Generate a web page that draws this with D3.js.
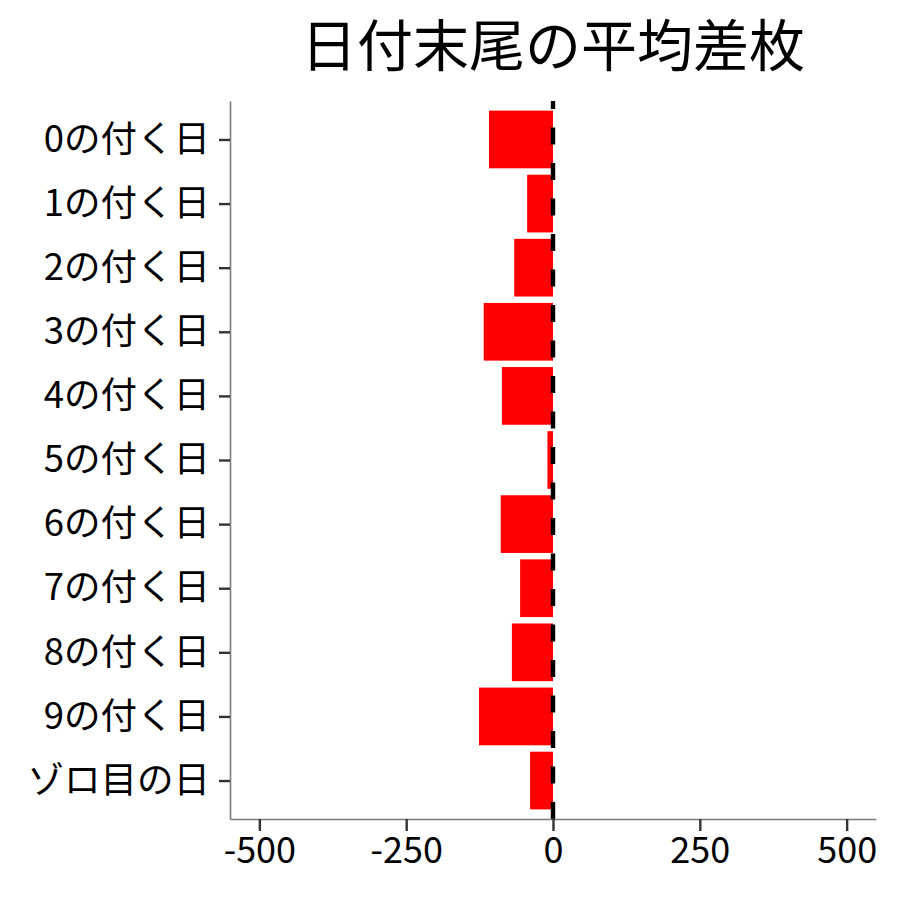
<!DOCTYPE html>
<html>
<head>
<meta charset="utf-8">
<script src="https://cdn.jsdelivr.net/npm/d3@7"></script>
<style>
  body { margin: 0; background: #fff; }
  svg text { font-family: "Noto Sans CJK JP", "Noto Sans", sans-serif; fill: #000; }
</style>
</head>
<body>
<div id="chart"></div>
<script>
// data
const categories = ["0の付く日", "1の付く日", "2の付く日", "3の付く日", "4の付く日",
    "5の付く日", "6の付く日", "7の付く日", "8の付く日", "9の付く日", "ゾロ目の日"];
const avgDiff = [-109, -44, -66, -118, -87, -9.5, -89, -56, -70, -126, -39];
const xTicks = [-500, -250, 0, 250, 500];
const titleText = "日付末尾の平均差枚";

const width = 900, height = 900;
const margin = { top: 101, right: 24, bottom: 81, left: 230 };
const plotW = width - margin.left - margin.right;
const plotH = height - margin.top - margin.bottom;

const svg = d3.select('#chart').append('svg')
    .attr('width', width)
    .attr('height', height);

const g = svg.append('g')
    .attr('transform', `translate(${margin.left},${margin.top})`);

const x = d3.scaleLinear().domain([-550, 550]).range([0, plotW]);
const y = d3.scalePoint().domain(categories).range([0, plotH]).padding(0.6);
const barH = y.step() * 0.9;

// bars
g.selectAll('rect.bar')
    .data(categories)
    .enter().append('rect')
    .attr('class', 'bar')
    .attr('x', (d, i) => x(Math.min(0, avgDiff[i])))
    .attr('width', (d, i) => Math.abs(x(avgDiff[i]) - x(0)))
    .attr('y', d => y(d) - barH / 2)
    .attr('height', barH)
    .attr('fill', '#ff0000');

// dashed zero line, drawn from the bottom up like ggplot
g.append('line')
    .attr('x1', x(0)).attr('x2', x(0))
    .attr('y1', plotH).attr('y2', 0)
    .attr('stroke', '#000')
    .attr('stroke-width', 4.4)
    .attr('stroke-dasharray', '17,18.5');

// x axis
const xAxis = g.append('g')
    .attr('transform', `translate(0,${plotH})`)
    .call(d3.axisBottom(x).tickValues(xTicks).tickSize(12).tickSizeOuter(0).tickPadding(6));
xAxis.select('.domain').attr('stroke', '#7a7a7a').attr('stroke-width', 1.6);
xAxis.selectAll('.tick line').attr('stroke', '#333').attr('stroke-width', 2.4);
xAxis.selectAll('.tick text').attr('font-size', 36).attr('fill', '#000')
    .text(d => d < 0 ? '-' + Math.abs(d) : d);

// y axis
const yAxis = g.append('g')
    .call(d3.axisLeft(y).tickSize(11).tickSizeOuter(0).tickPadding(9));
yAxis.select('.domain').attr('stroke', '#7a7a7a').attr('stroke-width', 1.6);
yAxis.selectAll('.tick line').attr('stroke', '#333').attr('stroke-width', 2.4);
yAxis.selectAll('.tick text').attr('font-size', 36.5).attr('fill', '#000');

// title centred on the panel
svg.append('text')
    .attr('x', margin.left + plotW / 2)
    .attr('y', 66)
    .attr('text-anchor', 'middle')
    .attr('font-size', 56)
    .text(titleText);
</script>
</body>
</html>
